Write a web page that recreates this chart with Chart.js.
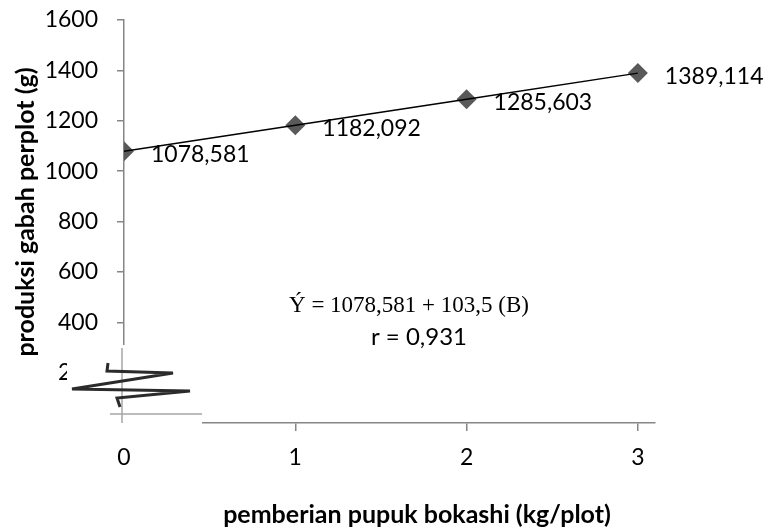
<!DOCTYPE html>
<html lang="id">
<head>
  <meta charset="UTF-8" />
  <title>Produksi gabah perplot</title>
  <style>
    * { margin: 0; padding: 0; box-sizing: border-box; }
    body { background: #fff; width: 765px; height: 531px; overflow: hidden; }
    #wrap { position: relative; width: 765px; height: 531px; }
  </style>
  <script src="https://cdn.jsdelivr.net/npm/chart.js"></script>
</head>
<body>
  <div id="wrap"><canvas id="chart"></canvas></div>

  <script>
    // data
    const dosis = [0, 1, 2, 3];                                  // kg/plot
    const produksi = [1078.581, 1182.092, 1285.603, 1389.114];  // g per plot
    const xTicks = [0, 1, 2, 3];
    const yMin = 0, yMax = 1600, yStep = 200;
    const judulX = 'pemberian pupuk bokashi (kg/plot)';
    const judulY = 'produksi gabah perplot (g)';
    const persamaan = 'Ý = 1078,581 + 103,5 (B)';
    const korelasi = 'r = 0,931';

    Chart.defaults.font.family = 'Lato';
    Chart.defaults.color = '#000';

    const axisGray = '#868686';

    const points = dosis.map((x, i) => ({ x: x, y: produksi[i] }));

    // labels right of every marker, axis titles, equation and the axis break mark
    const extras = {
      id: 'extras',
      afterDatasetsDraw(chart) {
        const ctx = chart.ctx;
        const meta = chart.getDatasetMeta(1);
        ctx.save();
        ctx.font = '23px Lato';
        ctx.fillStyle = '#000';
        ctx.textAlign = 'left';
        ctx.textBaseline = 'middle';
        meta.data.forEach((pt, i) => {
          const txt = produksi[i].toFixed(3).replace('.', ',');
          ctx.fillText(txt, pt.x + 27, pt.y + 3);
        });
        ctx.restore();
      },
      afterDraw(chart) {
        const ctx = chart.ctx;
        const a = chart.chartArea;
        const L = a.left, B = a.bottom;
        ctx.save();

        // white patch over the axis corner
        ctx.fillStyle = '#fff';
        ctx.fillRect(L - 57, B - 78, 135, 88);

        // broken axis stubs
        ctx.strokeStyle = '#a6a6a6';
        ctx.lineWidth = 1.5;
        ctx.beginPath();
        ctx.moveTo(L - 2, B - 75);
        ctx.lineTo(L - 2, B);
        ctx.moveTo(L - 14, B - 9);
        ctx.lineTo(L + 78, B - 9);
        ctx.stroke();

        // zigzag
        ctx.strokeStyle = '#2b2b2b';
        ctx.lineWidth = 3;
        ctx.lineJoin = 'miter';
        ctx.beginPath();
        ctx.moveTo(L - 16, B - 60);
        ctx.lineTo(L - 17, B - 52);
        ctx.lineTo(L + 49, B - 50);
        ctx.lineTo(L - 52, B - 34);
        ctx.lineTo(L + 66, B - 32);
        ctx.lineTo(L - 7, B - 25);
        ctx.lineTo(L - 4, B - 16);
        ctx.stroke();

        // axis titles
        ctx.fillStyle = '#000';
        ctx.textAlign = 'center';
        ctx.textBaseline = 'alphabetic';
        ctx.font = 'bold 25px Lato';
        ctx.fillText(judulX, 417, 523);
        ctx.save();
        ctx.translate(34, 212);
        ctx.rotate(-Math.PI / 2);
        ctx.fillText(judulY, 0, 0);
        ctx.restore();

        // regression text
        ctx.font = '23px "Liberation Serif"';
        ctx.fillText(persamaan, 409, 312);
        ctx.font = '24px Lato';
        ctx.fillText(korelasi, 419, 345);
        ctx.restore();
      }
    };

    new Chart(document.getElementById('chart'), {
      type: 'scatter',
      data: {
        datasets: [
          {
            label: 'garis',
            data: points,
            showLine: true,
            borderColor: '#000',
            borderWidth: 1.5,
            pointRadius: 0,
            order: 0
          },
          {
            label: 'produksi',
            data: points,
            showLine: false,
            pointStyle: 'rectRot',
            pointRadius: 10,
            pointBackgroundColor: '#595959',
            pointBorderWidth: 0,
            order: 1
          }
        ]
      },
      plugins: [extras],
      options: {
        responsive: true,
        maintainAspectRatio: false,
        animation: false,
        layout: { padding: { left: 0, right: 110, top: 20, bottom: 0 } },
        plugins: {
          legend: { display: false },
          tooltip: { enabled: false }
        },
        scales: {
          x: {
            type: 'linear',
            min: 0,
            max: 3.1,
            afterBuildTicks(scale) {
              scale.ticks = xTicks.map(v => ({ value: v }));
            },
            afterFit(scale) { scale.height = 108; },
            ticks: {
              font: { size: 23 },
              padding: 13,
              callback: v => String(v)
            },
            grid: {
              drawOnChartArea: false,
              drawTicks: true,
              tickLength: 8,
              color: axisGray,
              lineWidth: 1.5
            },
            border: { color: axisGray, width: 1.5 }
          },
          y: {
            min: yMin,
            max: yMax,
            afterFit(scale) {
              scale.width = 124;
              // tick padding would otherwise push the plot top down
              scale.paddingTop = 12;
              scale.paddingBottom = 12;
            },
            ticks: {
              stepSize: yStep,
              font: { size: 23 },
              padding: 19,
              callback: v => String(v)
            },
            grid: {
              drawOnChartArea: false,
              drawTicks: true,
              tickLength: 7,
              color: axisGray,
              lineWidth: 1.5
            },
            border: { color: axisGray, width: 1.5 }
          }
        }
      }
    });
  </script>
</body>
</html>
